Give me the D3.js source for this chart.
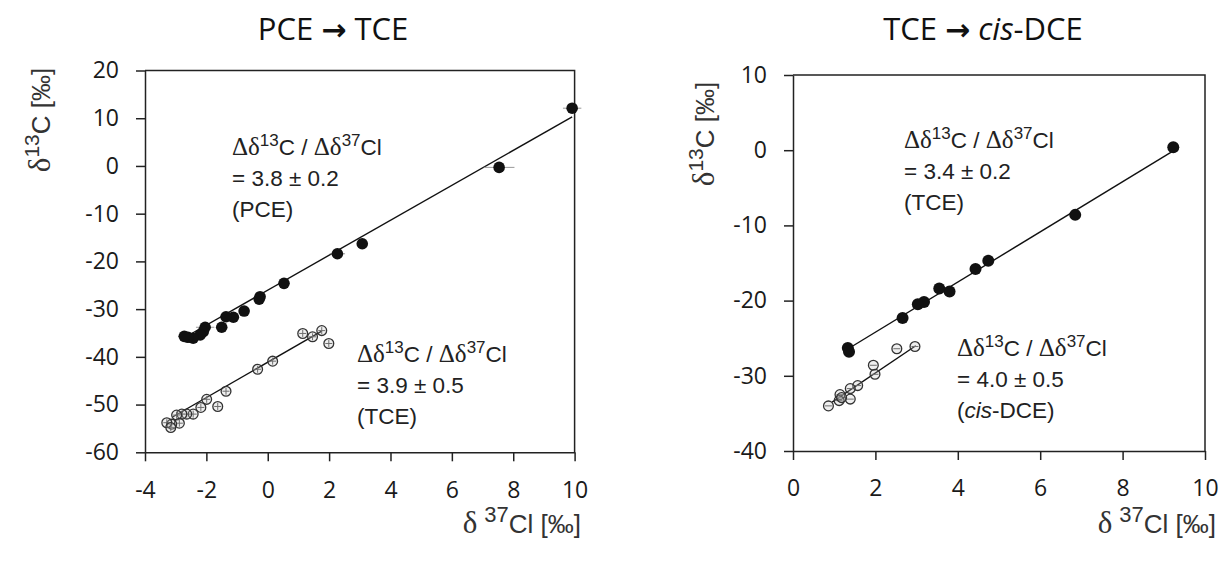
<!DOCTYPE html>
<html>
<head>
<meta charset="utf-8">
<script src="https://cdn.jsdelivr.net/npm/d3@7"></script>
<style>
  body { margin: 0; background: #fff; }
  svg { display: block; }
</style>
</head>
<body>
<svg id="chart"></svg>
<script>
// left panel: PCE -> TCE   [d37Cl, d13C, xErr]
const pcePoints = [
    [9.92, 12.1, 0.3], [7.54, -0.3, 0.5], [3.08, -16.3, 0], [2.27, -18.4, 0.25],
    [0.53, -24.6, 0], [-0.25, -27.4, 0], [-0.28, -27.9, 0], [-0.77, -30.4, 0],
    [-1.12, -31.7, 0], [-1.36, -31.6, 0], [-1.5, -33.8, 0], [-2.04, -33.8, 0.3],
    [-2.1, -34.7, 0], [-2.2, -35.4, 0], [-2.43, -36.1, 0], [-2.6, -35.9, 0], [-2.72, -35.7, 0.2]
];
const tceLeftPoints = [
    [1.14, -35.1], [1.46, -35.8], [1.76, -34.5], [1.99, -37.2], [0.16, -40.9],
    [-0.33, -42.6], [-1.36, -47.2], [-1.99, -48.9], [-1.63, -50.4], [-2.18, -50.6],
    [-2.43, -52.0], [-2.64, -52.0], [-2.8, -52.0], [-2.97, -52.2], [-2.88, -53.9],
    [-3.13, -54.1], [-3.29, -53.8], [-3.16, -54.8]
];
const pceFit = [[-2.75, -36.1], [9.92, 10.3]];
const tceLeftFit = [[-3.1, -52.6], [1.76, -34.6]];

// right panel: TCE -> cis-DCE   [d37Cl, d13C]
const tceRightPoints = [
    [9.23, 0.4], [6.85, -8.6], [4.74, -14.7], [4.43, -15.8], [3.8, -18.8],
    [3.55, -18.4], [3.18, -20.2], [3.03, -20.5], [2.66, -22.3], [1.33, -26.3], [1.36, -26.8]
];
const dcePoints = [
    [2.96, -26.1], [2.52, -26.4], [1.95, -28.6], [1.99, -29.8], [1.57, -31.3],
    [1.39, -31.7], [1.14, -32.5], [1.12, -33.3], [1.39, -33.1], [0.86, -34.0], [1.18, -32.9]
];
const tceRightFit = [[1.34, -26.4], [9.23, -0.1]];
const dceFit = [[0.95, -33.5], [2.98, -26.0]];

const leftXTicks = [-4, -2, 0, 2, 4, 6, 8, 10];
const leftYTicks = [20, 10, 0, -10, -20, -30, -40, -50, -60];
const rightXTicks = [0, 2, 4, 6, 8, 10];
const rightYTicks = [10, 0, -10, -20, -30, -40];

const W = 1221, H = 562;
const svg = d3.select("#chart").attr("width", W).attr("height", H);

const tickFont = "'Open Sans', sans-serif";
const textFont = "'Liberation Sans', Arial, sans-serif";
const greekFont = "'Liberation Serif', 'Times New Roman', serif";

function drawPanel(p) {
    const x = d3.scaleLinear().domain(p.xDomain).range([p.left, p.right]);
    const y = d3.scaleLinear().domain(p.yDomain).range([p.bottom, p.top]);

    // frame top + right
    svg.append("path")
        .attr("d", `M${p.left},${p.top}H${p.right}V${p.bottom}`)
        .attr("fill", "none").attr("stroke", "#222").attr("stroke-width", 1.5);

    const xAxis = svg.append("g")
        .attr("transform", `translate(0,${p.bottom})`)
        .call(d3.axisBottom(x).tickValues(p.xTicks).tickFormat(d => String(d))
            .tickSize(9).tickPadding(20).tickSizeOuter(0));
    const yAxis = svg.append("g")
        .attr("transform", `translate(${p.left},0)`)
        .call(d3.axisLeft(y).tickValues(p.yTicks).tickFormat(d => String(d))
            .tickSize(9).tickPadding(17).tickSizeOuter(0));
    [xAxis, yAxis].forEach(a => {
        a.select(".domain").attr("stroke", "#222").attr("stroke-width", 1.5);
        a.selectAll(".tick line").attr("stroke", "#222").attr("stroke-width", 1.5);
        a.selectAll(".tick text")
            .attr("fill", "#1a1a1a")
            .style("font-family", tickFont)
            .style("font-size", "23px");
    });

    // fit lines
    p.fits.forEach(f => {
        svg.append("line")
            .attr("x1", x(f[0][0])).attr("y1", y(f[0][1]))
            .attr("x2", x(f[1][0])).attr("y2", y(f[1][1]))
            .attr("stroke", "#111").attr("stroke-width", 1.4);
    });

    // filled series with error bars
    const g1 = svg.append("g");
    p.filled.forEach(d => {
        if (d[2]) {
            g1.append("line")
                .attr("x1", x(d[0] - d[2])).attr("x2", x(d[0] + d[2]))
                .attr("y1", y(d[1])).attr("y2", y(d[1]))
                .attr("stroke", "#999").attr("stroke-width", 1);
        }
        if (p.yErr) {
            g1.append("line")
                .attr("x1", x(d[0])).attr("x2", x(d[0]))
                .attr("y1", y(d[1] - p.yErr)).attr("y2", y(d[1] + p.yErr))
                .attr("stroke", "#999").attr("stroke-width", 1);
        }
    });
    g1.selectAll("circle").data(p.filled).join("circle")
        .attr("cx", d => x(d[0])).attr("cy", d => y(d[1]))
        .attr("r", p.rFilled)
        .attr("fill", "#111");

    // open series
    const g2 = svg.append("g");
    p.open.forEach(d => {
        g2.append("line")
            .attr("x1", x(d[0]) - 3.5).attr("x2", x(d[0]) + 3.5)
            .attr("y1", y(d[1])).attr("y2", y(d[1]))
            .attr("stroke", "#555").attr("stroke-width", 1);
        if (p.openCross) {
            g2.append("line")
                .attr("x1", x(d[0])).attr("x2", x(d[0]))
                .attr("y1", y(d[1]) - 3.5).attr("y2", y(d[1]) + 3.5)
                .attr("stroke", "#555").attr("stroke-width", 1);
        }
    });
    g2.selectAll("circle").data(p.open).join("circle")
        .attr("cx", d => x(d[0])).attr("cy", d => y(d[1]))
        .attr("r", 4.9)
        .attr("fill", "rgba(190,190,190,0.25)")
        .attr("stroke", "#333").attr("stroke-width", 1.3);

    // title
    const t = svg.append("text")
        .attr("x", p.titleX).attr("y", 40)
        .attr("text-anchor", "middle")
        .style("font-family", tickFont).style("font-size", "31px").attr("fill", "#111");
    p.title.forEach(s => {
        const ts = t.append("tspan").style("font-style", s.i ? "italic" : "normal").text(s.t);
        if (s.arrow) ts.style("font-family", "'DejaVu Sans', sans-serif").style("font-weight", "bold").style("font-size", "30px");
    });

    // y axis title
    const yt = svg.append("text")
        .attr("transform", `translate(${p.yTitleX},${p.yTitleY}) rotate(-90)`)
        .attr("text-anchor", "middle")
        .style("font-family", textFont).style("font-size", "26px").attr("fill", "#333");
    yt.append("tspan").style("font-family", greekFont).style("font-size", "31px").text("δ");
    yt.append("tspan").attr("dy", -11).style("font-size", "21px").text("13");
    yt.append("tspan").attr("dy", 11).text("C [‰]");

    // x axis title
    const xt = svg.append("text")
        .attr("x", p.xTitleX).attr("y", 533)
        .attr("text-anchor", "end")
        .style("font-family", textFont).style("font-size", "26px").attr("fill", "#333");
    xt.append("tspan").style("font-family", greekFont).style("font-size", "31px").text("δ");
    xt.append("tspan").attr("dx", 7).attr("dy", -11).style("font-size", "22px").text("37");
    xt.append("tspan").attr("dy", 11).text("Cl [‰]");

    // slope annotations
    p.notes.forEach(n => {
        const a = svg.append("g")
            .style("font-family", textFont).style("font-size", "22.5px").attr("fill", "#222");
        const l1 = a.append("text").attr("x", n.x).attr("y", n.y);
        l1.append("tspan").style("font-family", greekFont).style("font-size", "25px").text("Δδ");
        l1.append("tspan").attr("dy", -9).style("font-size", "17px").text("13");
        l1.append("tspan").attr("dy", 9).text("C / ");
        l1.append("tspan").style("font-family", greekFont).style("font-size", "25px").text("Δδ");
        l1.append("tspan").attr("dy", -9).style("font-size", "17px").text("37");
        l1.append("tspan").attr("dy", 9).text("Cl");
        a.append("text").attr("x", n.x).attr("y", n.y + 31).text(n.value);
        const l3 = a.append("text").attr("x", n.x).attr("y", n.y + 62);
        n.label.forEach(s => l3.append("tspan").style("font-style", s.i ? "italic" : "normal").text(s.t));
    });
}

drawPanel({
    xDomain: [-4, 10], yDomain: [-60, 20],
    left: 145, right: 574.6, top: 70.5, bottom: 452.3,
    xTicks: leftXTicks, yTicks: leftYTicks,
    filled: pcePoints, open: tceLeftPoints, fits: [pceFit, tceLeftFit],
    rFilled: 5.8, yErr: 0, openCross: true,
    title: [{ t: "PCE " }, { t: "→", arrow: true }, { t: " TCE" }], titleX: 333,
    yTitleX: 50, yTitleY: 120, xTitleX: 581,
    notes: [
        { x: 232, y: 155, value: "= 3.8 ± 0.2", label: [{ t: "(PCE)" }] },
        { x: 357, y: 362, value: "= 3.9 ± 0.5", label: [{ t: "(TCE)" }] }
    ]
});

drawPanel({
    xDomain: [0, 10], yDomain: [-40, 10],
    left: 793, right: 1205, top: 75, bottom: 451,
    xTicks: rightXTicks, yTicks: rightYTicks,
    filled: tceRightPoints, open: dcePoints, fits: [tceRightFit, dceFit],
    rFilled: 6, yErr: 0.6, openCross: false,
    title: [{ t: "TCE " }, { t: "→", arrow: true }, { t: " " }, { t: "cis", i: true }, { t: "-DCE" }], titleX: 983,
    yTitleX: 714, yTitleY: 134, xTitleX: 1216,
    notes: [
        { x: 904, y: 148, value: "= 3.4 ± 0.2", label: [{ t: "(TCE)" }] },
        { x: 957, y: 356, value: "= 4.0 ± 0.5", label: [{ t: "(" }, { t: "cis", i: true }, { t: "-DCE)" }] }
    ]
});
</script>
</body>
</html>
